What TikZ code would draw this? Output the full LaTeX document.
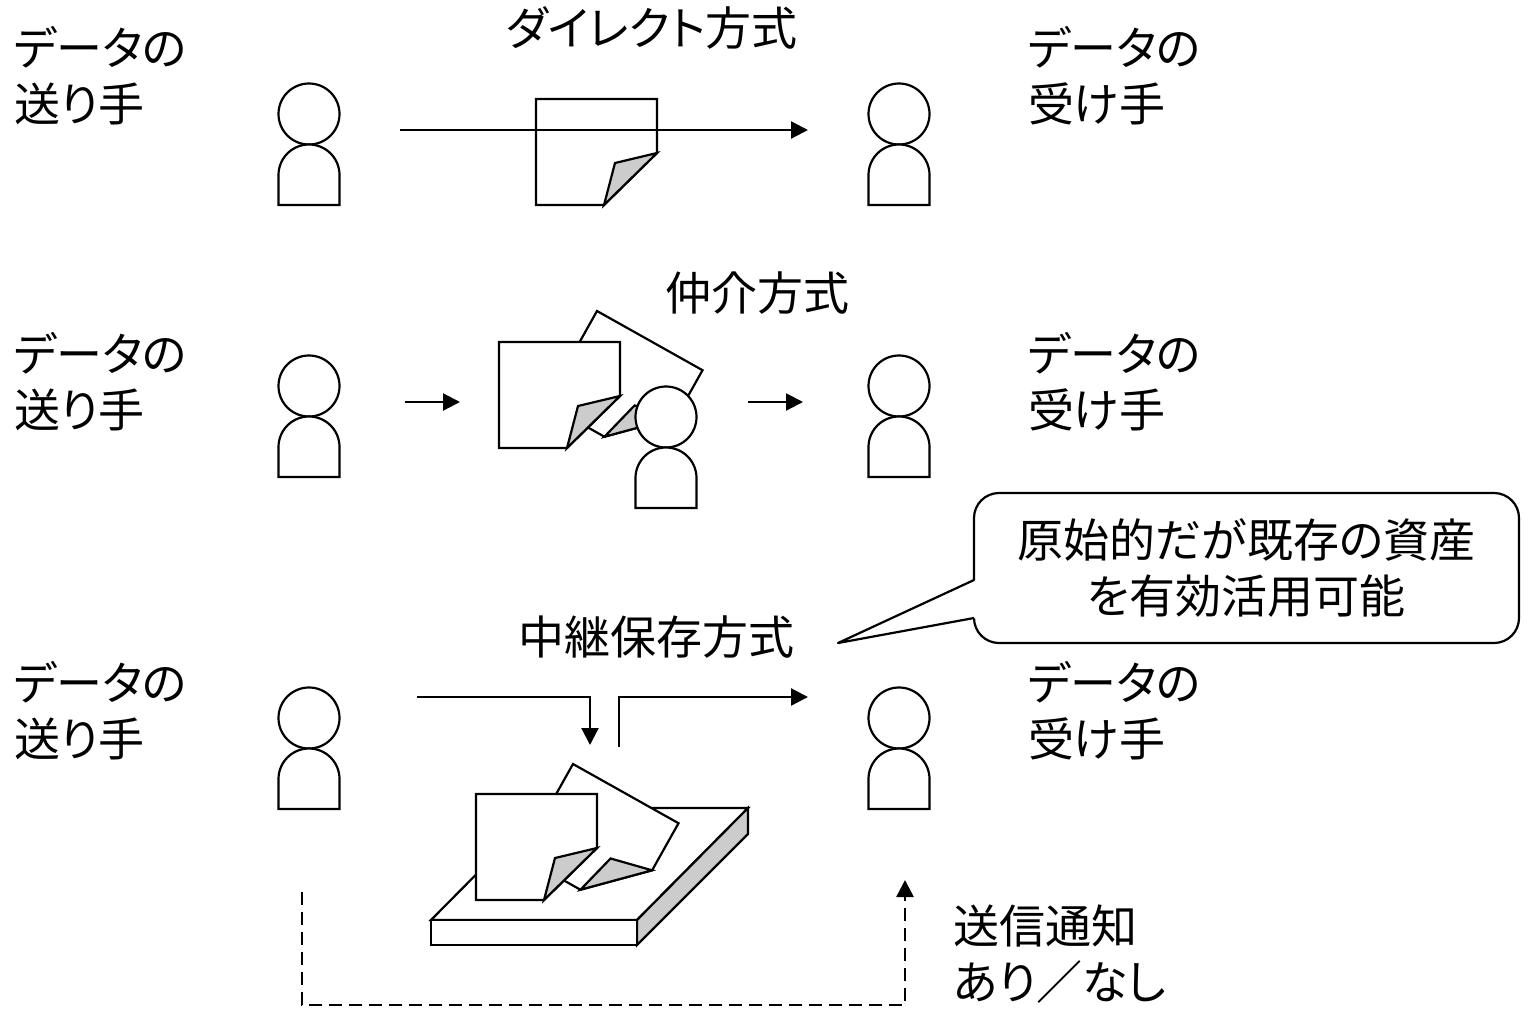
\documentclass[tikz,border=0pt]{standalone}
\usepackage{fontspec}
\setmainfont[RawFeature={+palt}]{Noto Sans CJK JP}
\usetikzlibrary{arrows.meta}
\definecolor{foldgray}{gray}{0.8}
\tikzset{
  person/.pic={
    \draw[fill=white] (0,0) circle[radius=30.5pt];
    \draw[fill=white] (-30.5,91) -- (-30.5,61) arc[start angle=180,end angle=0,radius=30.5pt] -- (30.5,91) -- cycle;
  },
  sheet/.pic={
    \draw[fill=white] (0,0) -- (121,0) -- (121,54) -- (68,106) -- (0,106) -- cycle;
    \draw[fill=foldgray] (68,106) -- (79,64) -- (121,54) -- cycle;
  },
  lbl/.style={align=left,anchor=west,inner sep=0pt},
  ttl/.style={inner sep=0pt},
  arr/.style={-{Triangle[length=17pt,width=17pt]}},
}
\begin{document}
\begin{tikzpicture}[x=1pt,y=-1pt,line width=2.2pt,font=\fontsize{46}{56}\selectfont]
\useasboundingbox (0,0) rectangle (1528,1009);

% direct
\node[ttl] (t1) at (652,28) {ダイレクト方式};
\node[lbl] (snd1) at (13,76) {データの\\送り手};
\node[lbl] (rcv1) at (1027,76) {データの\\受け手};
\pic at (309,114) {person};
\pic at (899,114) {person};
\pic at (536,99) {sheet};
\coordinate (a1) at (400,130);
\coordinate (b1) at (808,130);
\draw[arr] (a1) -- (b1);

% via a broker
\node[ttl] (t2) at (757,293) {仲介方式};
\node[lbl] (snd2) at (13,382) {データの\\送り手};
\node[lbl] (rcv2) at (1027,382) {データの\\受け手};
\pic at (309,386) {person};
\pic at (899,386) {person};
\pic[rotate=-29.3] at (597,311) {sheet};
\pic at (499,342) {sheet};
\pic at (666,417) {person};
\coordinate (a2) at (405,402);
\coordinate (b2) at (460,402);
\coordinate (c2) at (748,402);
\coordinate (d2) at (803,402);
\draw[arr] (a2) -- (b2);
\draw[arr] (c2) -- (d2);

% store and forward
\node[ttl] (t3) at (656,637) {中継保存方式};
\node[lbl] (snd3) at (13,711) {データの\\送り手};
\node[lbl] (rcv3) at (1027,711) {データの\\受け手};
\pic at (309,718) {person};
\pic at (899,718) {person};
\draw[fill=white] (431,920) -- (542,808) -- (748,808) -- (637,920) -- cycle;
\draw[fill=foldgray] (637,920) -- (748,808) -- (748,834) -- (637,945) -- cycle;
\draw[fill=white] (431,920) rectangle (637,945);
\pic[rotate=-29.3] at (573,764) {sheet};
\pic at (476,794) {sheet};
\coordinate (a3) at (417,697);
\coordinate (b3) at (590,745);
\coordinate (c3) at (619,747);
\coordinate (d3) at (808,697);
\draw[arr] (a3) -| (b3);
\draw[arr] (c3) |- (d3);

% notification
\coordinate (e3) at (302,892);
\coordinate (g3) at (302,1005);
\coordinate (f3) at (905,880);
\draw[arr,line width=2.6pt,dash pattern=on 13pt off 7pt] (e3) -- (g3) -| (f3);
\node[lbl] (ntf) at (952,954) {送信通知\\あり／なし};

% remark
\node[draw,fill=white,rounded corners=25pt,minimum width=545pt,minimum height=150pt,align=center,inner sep=0pt] (note) at (1246.5,568) {原始的だが既存の資産\\を有効活用可能};
\fill[white] (976,580) -- (838,643) -- (976,618) -- cycle;
\draw[line join=round] (974,580) -- (838,643) -- (974,618);
\end{tikzpicture}
\end{document}
